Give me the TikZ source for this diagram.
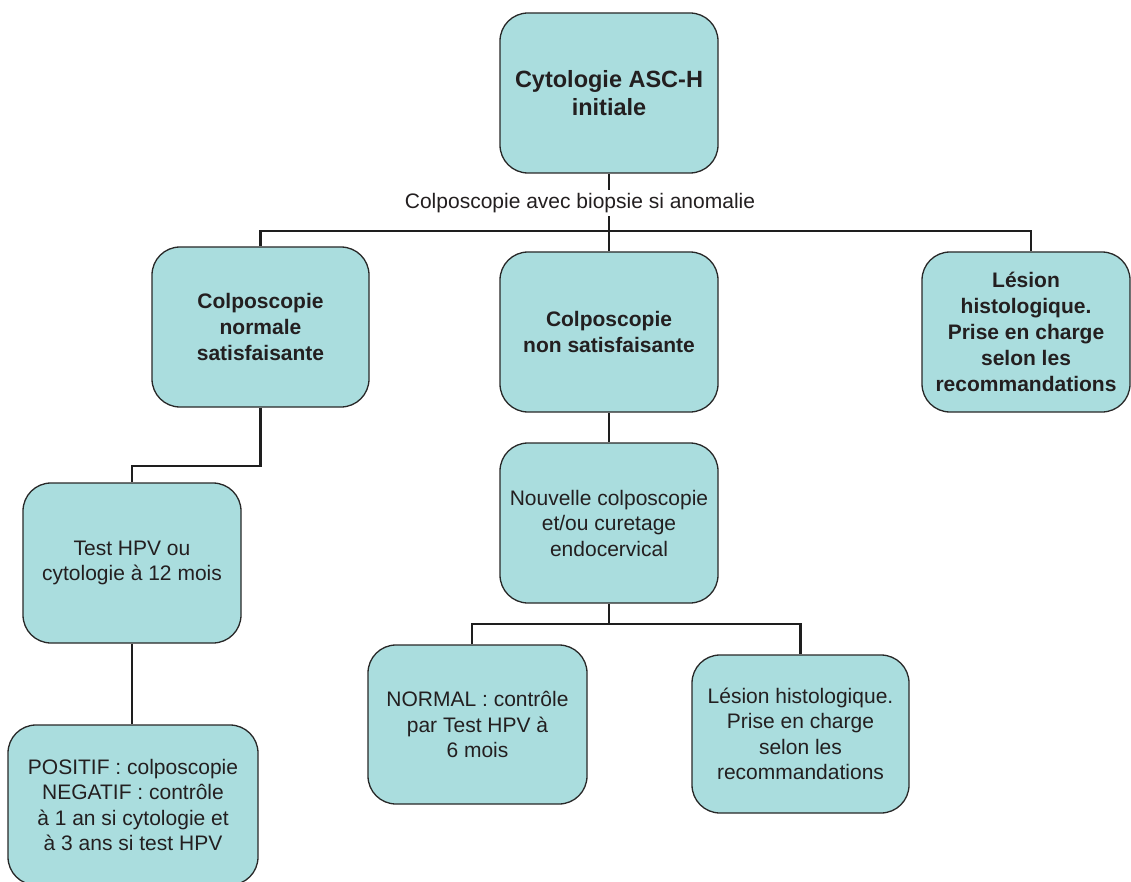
\documentclass[tikz,border=0pt]{standalone}
\usepackage{fontspec}
\setmainfont{Liberation Sans}
\definecolor{boxfill}{RGB}{170,221,222}
\definecolor{boxline}{RGB}{40,40,40}
\definecolor{connc}{RGB}{30,30,30}
\definecolor{txt}{RGB}{35,31,32}
\begin{document}
\begin{tikzpicture}[x=1pt,y=-1pt,
  box/.style={draw=boxline, line width=1.3pt, fill=boxfill, rounded corners=28pt,
    minimum width=218pt, minimum height=160pt, align=center, inner sep=0pt,
    text=txt, font=\fontsize{21}{25.5}\selectfont},
  boldbox/.style={box, font=\fontsize{21}{26}\selectfont\bfseries},
  conn/.style={draw=connc, line width=2.8pt}]
\useasboundingbox (0,0) rectangle (1131,882);

\node[boldbox, font=\fontsize{23.5}{28}\selectfont\bfseries] (top) at (609,93) {Cytologie ASC-H\\initiale};
\node[boldbox, minimum width=217pt] (cn) at (260.5,327) {Colposcopie\\normale\\satisfaisante};
\node[boldbox] (cns) at (609,332) {Colposcopie\\non satisfaisante};
\node[boldbox, minimum width=208pt] (les1) at (1026,332) {Lésion\\histologique.\\Prise en charge\\selon les\\recommandations};
\node[box] (hpv) at (132,563) {Test HPV ou\\cytologie à 12 mois};
\node[box] (nouv) at (609,523) {Nouvelle colposcopie\\et/ou curetage\\endocervical};
\node[box, minimum width=219pt, minimum height=159pt] (norm) at (477.5,724.5) {NORMAL : contrôle\\par Test HPV à\\6 mois};
\node[box, minimum width=217pt, minimum height=158pt] (les2) at (800.5,734) {Lésion histologique.\\Prise en charge\\selon les\\recommandations};
\node[box, minimum width=250pt] (pos) at (133,805) {POSITIF : colposcopie\\NEGATIF : contrôle\\à 1 an si cytologie et\\à 3 ans si test HPV};

\coordinate (bus) at (609,231);
\coordinate (j1) at (132,466);
\coordinate (bus2) at (609,624);

\draw[conn] (top.south) -- (bus);
\draw[conn] (cn.north) |- (bus) -| ([xshift=5pt]les1.north);
\draw[conn] (bus) -- (cns.north);
\node[fill=white, inner sep=3pt, text=txt, font=\fontsize{21}{25}\selectfont] (lab) at (580,203) {Colposcopie avec biopsie si anomalie};

\draw[conn] (cn.south) |- (j1) -- (hpv.north);
\draw[conn] (hpv.south) -- (hpv.south |- pos.north);
\draw[conn] (cns.south) -- (nouv.north);
\draw[conn] (nouv.south) -- (bus2);
\draw[conn] ([xshift=-5.5pt]norm.north) |- (bus2) -| (les2.north);
\end{tikzpicture}
\end{document}
